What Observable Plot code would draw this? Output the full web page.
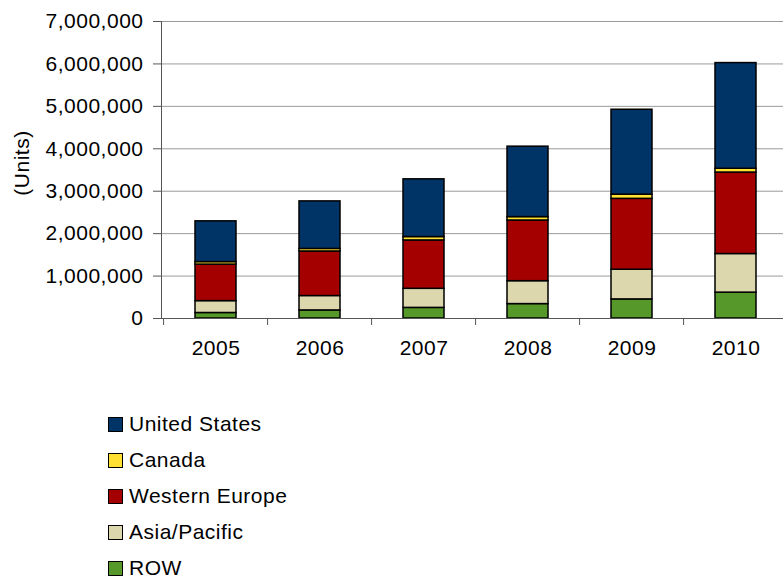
<!DOCTYPE html>
<html><head><meta charset="utf-8">
<script src="https://cdn.jsdelivr.net/npm/d3@7"></script>
<script src="https://cdn.jsdelivr.net/npm/@observablehq/plot@0.6"></script>
<style>
body{margin:0;background:#fff;overflow:hidden;font-family:"Liberation Sans",Arial,sans-serif;}
#legend{margin-left:108px;padding-top:16px}
.item{height:36px;display:flex;align-items:center;font-size:21px;letter-spacing:0.5px;color:#000}
.sw{width:13px;height:13px;border:1.5px solid #000;margin-right:6px;box-sizing:content-box}
</style></head><body><div id="chart"></div><div id="legend"></div>
<script>
const years = ["2005","2006","2007","2008","2009","2010"];
const regions = ["United States","Canada","Western Europe","Asia/Pacific","ROW"];
const colors = ["#003366","#FFE033","#A50000","#DDD7AE","#56992A"];
const unitedStates = [960000,1120000,1360000,1660000,2000000,2490000];
const canada = [60000,60000,80000,80000,100000,90000];
const westernEurope = [860000,1050000,1140000,1430000,1670000,1920000];
const asiaPacific = [280000,340000,450000,540000,700000,910000];
const row = [130000,190000,250000,340000,450000,610000];
const yTicks = [0,1000000,2000000,3000000,4000000,5000000,6000000,7000000];
const yLabel = "(Units)";

const series = {"United States":unitedStates,"Canada":canada,"Western Europe":westernEurope,"Asia/Pacific":asiaPacific,"ROW":row};
const stackOrder = ["ROW","Asia/Pacific","Western Europe","Canada","United States"];
const data = [];
for (const r of stackOrder) years.forEach((y,i)=>data.push({year:y,region:r,value:series[r][i]}));

const W = 783, ML = 161, MR = -7;
const step = (W - ML - MR) / years.length;

const chart = Plot.plot({
  width: W, height: 390, marginLeft: ML, marginRight: MR, marginTop: 21, marginBottom: 72,
  style: {fontFamily: '"Liberation Sans", Arial, sans-serif', fontSize: "21px", color: "#000", background: "#fff", letterSpacing: "0.5px", overflow: "visible"},
  x: {domain: years, paddingInner: 0.61, paddingOuter: 0.305, align: 0.5, axis: null},
  y: {domain: [0, 7000000], axis: null},
  color: {domain: regions, range: colors},
  marks: [
    Plot.gridY(yTicks, {stroke: "#9a9a9a", strokeOpacity: 1}),
    Plot.barY(data, {x: "year", y: "value", fill: "region", order: stackOrder, stroke: "#000", strokeWidth: 1.5}),
    Plot.ruleY([0], {stroke: "#555"}),
    Plot.frame({anchor: "left", stroke: "#555"}),
    Plot.axisY(yTicks, {tickSize: 8, tickPadding: 10, tickFormat: d3.format(","), stroke: "#555", label: null}),
    Plot.text([yLabel], {text: d => d, frameAnchor: "left", textAnchor: "middle", lineAnchor: "middle", rotate: -90, dx: -139, dy: -7, fill: "#000"}),
    Plot.axisX({tickSize: 0, tickPadding: 22, label: null}),
    Plot.axisX({tickSize: 7, tickFormat: () => "", dx: -step/2, stroke: "#555", label: null})
  ]
});
document.getElementById("chart").appendChild(chart);

const leg = document.getElementById("legend");
regions.forEach((r,i)=>{
  const it = document.createElement("div"); it.className = "item";
  const sw = document.createElement("span"); sw.className = "sw"; sw.style.background = colors[i];
  const t = document.createElement("span"); t.textContent = r;
  it.appendChild(sw); it.appendChild(t); leg.appendChild(it);
});
</script></body></html>
